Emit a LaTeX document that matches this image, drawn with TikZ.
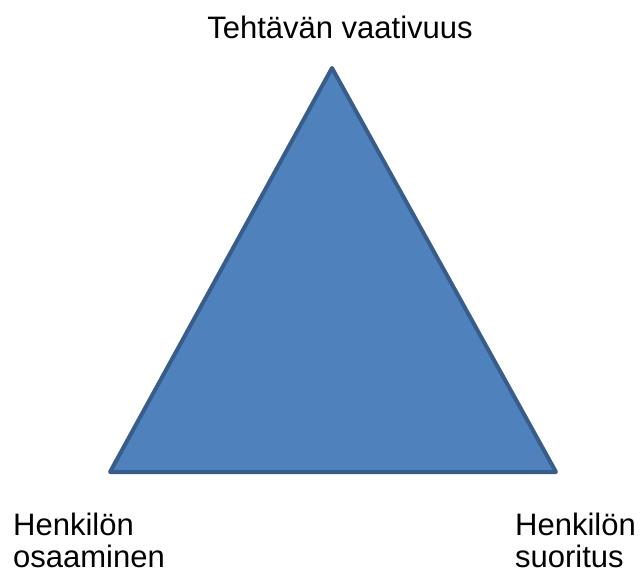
\documentclass[tikz,border=0pt]{standalone}
\usepackage{fontspec}
\setmainfont{Liberation Sans}
\definecolor{trifill}{HTML}{4F81BD}
\definecolor{triedge}{HTML}{385D8A}
\begin{document}
\begin{tikzpicture}[x=1pt,y=-1pt,
  lbl/.style={font=\fontsize{31}{33}\selectfont, inner sep=0pt, align=left}]
\useasboundingbox (0,0) rectangle (641,575);
\coordinate (top) at (332,68);
\coordinate (bl) at (110,472);
\coordinate (br) at (556,472);
\filldraw[fill=trifill, draw=triedge, line width=4pt, line join=round] (top) -- (bl) -- (br) -- cycle;
\node[lbl, anchor=base] (t) at (340,39) {Tehtävän vaativuus};
\node[lbl, anchor=base west] (l1) at (13,535) {Henkilön};
\node[lbl, anchor=base west] (l2) at (13,567) {osaaminen};
\node[lbl, anchor=base west] (r1) at (515,535) {Henkilön};
\node[lbl, anchor=base west] (r2) at (515,567) {suoritus};
\end{tikzpicture}
\end{document}
